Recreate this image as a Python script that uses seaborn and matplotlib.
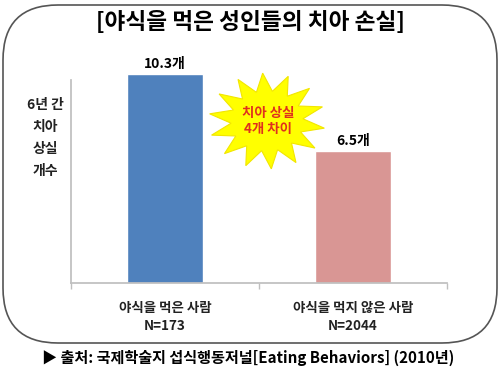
import numpy as np
import pandas as pd
import matplotlib
matplotlib.use("Agg")
import matplotlib.pyplot as plt
import seaborn as sns
from matplotlib.patches import FancyBboxPatch, Polygon

categories = ["야식을 먹은 사람\nN=173", "야식을 먹지 않은 사람\nN=2044"]
values = [10.3, 6.5]
value_labels = ["10.3개", "6.5개"]
bar_colors = ["#4F81BD", "#D99694"]
title = "[야식을 먹은 성인들의 치아 손실]"
ylabel = "6년 간\n치아\n상실\n개수"
burst_text = "치아 상실\n4개 차이"
source = "▶ 출처: 국제학술지 섭식행동저널[Eating Behaviors] (2010년)"

sns.set_theme(style="white")
plt.rcParams['font.family'] = ['Noto Sans CJK KR', 'DejaVu Sans']
plt.rcParams['font.weight'] = 'bold'

W, H = 500, 385
fig = plt.figure(figsize=(5, 3.85), dpi=100)
ax = fig.add_axes([71 / W, 1 - 283 / H, (447 - 71) / W, (283 - 60) / H])

df = pd.DataFrame({"cat": categories, "val": values})
sns.barplot(data=df, x="cat", y="val", hue="cat", palette=bar_colors,
            legend=False, width=0.4, ax=ax, saturation=1)
ax.set_xlim(-0.5, 1.5)
ax.set_ylim(0, 11)
ax.set_yticks([])
ax.set_xticks([-0.5, 0.5, 1.5])
ax.set_xticklabels([])
ax.tick_params(axis="x", bottom=True, length=4, color="#bfbfbf", width=1)
ax.set_xlabel("")
ax.set_ylabel("")
for s in ["top", "right"]:
    ax.spines[s].set_visible(False)
ax.spines["left"].set_color("#bfbfbf")
ax.spines["bottom"].set_color("#bfbfbf")
ax.spines["left"].set_bounds(0, 10)

for i, (v, lab) in enumerate(zip(values, value_labels)):
    ax.text(i, v + 0.15, lab, ha="center", va="bottom", fontsize=10,
            fontweight="bold", color="black")
for i, c in enumerate(categories):
    ax.text(i, -0.9, c, ha="center", va="top", fontsize=9.7,
            fontweight="bold", color="#222222", linespacing=1.3)

# rounded frame
frame = FancyBboxPatch((3 / W, 1 - 343 / H), (494 / W), (338 / H),
                       boxstyle="round,pad=0,rounding_size=0.11",
                       transform=fig.transFigure, fill=False,
                       edgecolor="#555555", linewidth=1.2,
                       mutation_aspect=W / H)
fig.patches.append(frame)

fig.text(250 / W, 1 - 22 / H, title, ha="center", va="center",
         fontsize=16.3, fontweight="bold", color="black")
fig.text(45 / W, 1 - 138 / H, ylabel, ha="center", va="center",
         fontsize=10, fontweight="bold", linespacing=1.75, color="#222222")
fig.text(248 / W, 1 - 358 / H, source, ha="center", va="center",
         fontsize=10.9, fontweight="bold", color="black")

# starburst decoration
cx, cy = 267, 121
n = 14
ang = np.linspace(0, 2 * np.pi, 2 * n, endpoint=False) + 0.15
rx = np.where(np.arange(2 * n) % 2 == 0, 58, 36)
ry = np.where(np.arange(2 * n) % 2 == 0, 48, 30)
px = cx + rx * np.cos(ang)
py = cy + ry * np.sin(ang)
pts = np.column_stack([px / W, 1 - py / H])
star = Polygon(pts, closed=True, transform=fig.transFigure,
               facecolor="#FFFF00", edgecolor="#f2e600", linewidth=0.8)
fig.patches.append(star)
fig.text(268 / W, 1 - 121 / H, burst_text, ha="center", va="center",
         fontsize=9.7, fontweight="bold", color="#E0301E", linespacing=1.1)

fig.savefig("out.png", dpi=100)
